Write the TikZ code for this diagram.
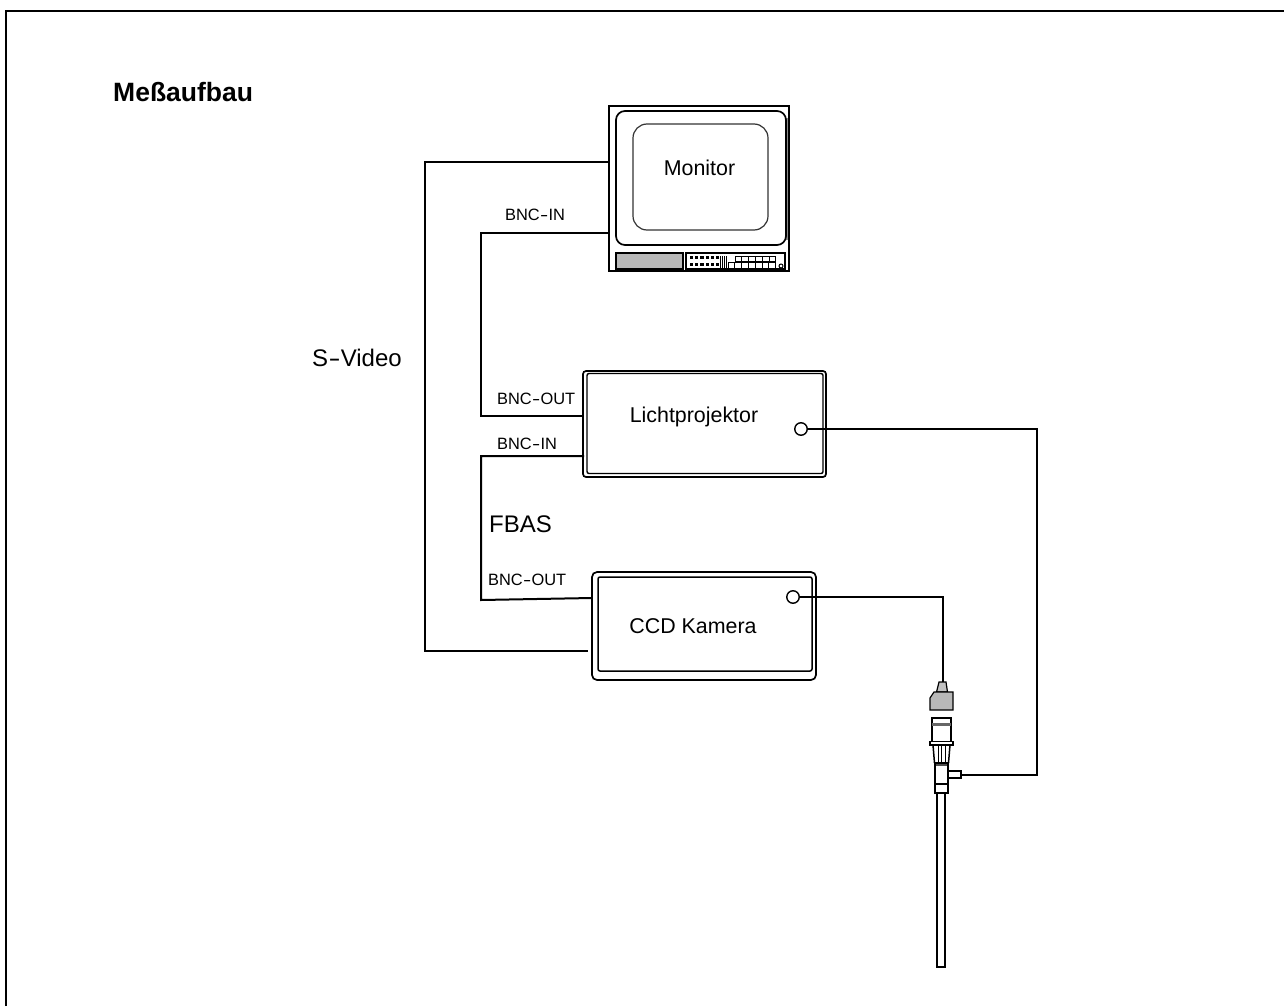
\documentclass[tikz,border=0pt]{standalone}
\usepackage{fontspec}
\setmainfont{Liberation Sans}
\definecolor{fillgrey}{gray}{0.72}
\newcommand{\hy}{\kern0.3pt\raisebox{0pt}{\scalebox{1.5}[1]{-}}\kern0.3pt}
\tikzset{
  x=1pt,y=-1pt,
  wire/.style={line width=2pt,black,line join=miter},
  thin part/.style={line width=1.2pt,black},
  part/.style={line width=1.5pt,black},
  big/.style={font=\fontsize{21.4}{24}\selectfont,inner sep=0pt,anchor=center},
  large/.style={font=\fontsize{24}{28}\selectfont,inner sep=0pt,anchor=west},
  small/.style={font=\fontsize{16.4}{18}\selectfont,inner sep=0pt,anchor=west},
  port/.style={circle,draw=black,line width=1.4pt,fill=white,minimum size=12.5pt,inner sep=0pt},
  box/.style={rectangle,draw=black,inner sep=0pt,outer sep=0pt},
}
\begin{document}
\begin{tikzpicture}
\useasboundingbox (0,0) rectangle (1284,1006);
% frame
\draw[line width=2.6pt] (5.8,1006) -- (5.8,11) -- (1284,11);

% devices
\node[box,line width=1.8pt,minimum width=180pt,minimum height=165pt] (mon) at (699,188.5) {};
\draw[line width=2.5pt,black!45] (787,118) -- (787,240);
\node[box,line width=1.7pt,rounded corners=9pt,minimum width=170pt,minimum height=134pt] (monface) at (701,178) {};
\node[box,line width=1.2pt,rounded corners=14pt,minimum width=135pt,minimum height=106pt,draw=black!80] (screen) at (700.5,177) {};
\node[box,line width=1.6pt,fill=fillgrey,minimum width=67pt,minimum height=16pt] (slot) at (649.5,261) {};
\node[box,line width=1.2pt,minimum width=99pt,minimum height=16pt] (panel) at (735.5,261) {};
\foreach \i in {0,...,5} {
  \fill (690+\i*5.2,256) rectangle +(3.2,2.8);
  \fill (690+\i*5.2,263) rectangle +(3.2,2.8);
}
\foreach \i in {0,1,2,3} \draw[line width=1pt] (720+\i*2.3,256) -- (720+\i*2.3,268);
\foreach \i in {0,...,5} \draw[line width=1pt] (735+\i*6.8,256) rectangle +(6.8,5.5);
\foreach \i in {0,...,6} \draw[line width=1pt] (728+\i*6.8,262) rectangle +(6.8,6);
\draw[line width=1pt] (781,266) circle (2);

\node[box,line width=1.7pt,rounded corners=3pt,minimum width=243pt,minimum height=106pt] (lp) at (704.5,424) {};
\node[box,line width=1.4pt,rounded corners=2pt,minimum width=236pt,minimum height=100pt] (lpin) at (705,423.5) {};
\node[box,line width=1.7pt,rounded corners=5pt,minimum width=224pt,minimum height=108pt] (ccd) at (704,626) {};
\node[box,line width=1.5pt,rounded corners=2pt,minimum width=214pt,minimum height=94pt] (ccdin) at (705,624) {};

\node[port] (lpport) at (801,429) {};
\node[port] (ccdport) at (793,597) {};

% probe
\coordinate (plugtop) at (942.5,682);
\coordinate (stub) at (961,775);
\draw[thin part,fill=fillgrey!85] (939,682) -- (946,682) -- (947.5,692) -- (936.5,692) -- cycle;
\draw[thin part,fill=fillgrey] (934,692) -- (953,692) -- (953,710) -- (930,710) -- (930,698) -- cycle;
\draw[part] (932,718) rectangle (951,742);
\fill[black!60] (932,723) rectangle (951,726);
\draw[part,fill=white] (930,741.5) rectangle (953,745);
\draw[part] (933,745) -- (934.5,763) (950,745) -- (948.5,763);
\foreach \x in {938,941.5,945} \draw[line width=1pt] (\x,745) -- (\x,763);
\fill[black!70] (935,763) rectangle (948,766);
\draw[part] (935,763) rectangle (948,793);
\draw[thin part] (935,784) -- (948,784);
\draw[part] (948,771) rectangle (961,778);
\draw[part] (937,793) -- (937,967) -- (945,967) -- (945,793);

% wires
\coordinate (monS) at (609,162);
\coordinate (monB) at (609,233);
\coordinate (ccdS) at (588,650.5);
\coordinate (ccdB) at (592,598);
\coordinate (lpO) at (583,416);
\coordinate (lpI) at (584,456);
\draw[wire] (monS) -- (425,162) -- (425,650.5) -- (ccdS);
\draw[wire] (monB) -- (481,233) -- (481,416) -- (lpO);
\draw[wire] (lpI) -- (481,456) -- (481,600) -- (ccdB);
\draw[wire] (lpport.east) -- (1037,429) -- (1037,775) -- (stub);
\draw[wire] (ccdport.east) -- (942.5,597) -- (plugtop);

% labels
\node[big,font=\fontsize{26.5}{30}\selectfont\bfseries,anchor=west] (title) at (113,92) {Meßaufbau};
\node[big] (monlabel) at (699.5,168) {Monitor};
\node[big] (lplabel) at (694,417) {Lichtprojektor};
\node[big] (ccdlabel) at (693,626) {CCD Kamera};
\node[large] (svideo) at (312,358) {S\hy Video};
\node[large] (fbas) at (489,524) {FBAS};
\node[small] (l1) at (505,215) {BNC\hy IN};
\node[small] (l2) at (497,399) {BNC\hy OUT};
\node[small] (l3) at (497,444) {BNC\hy IN};
\node[small] (l4) at (488,580) {BNC\hy OUT};
\end{tikzpicture}
\end{document}
